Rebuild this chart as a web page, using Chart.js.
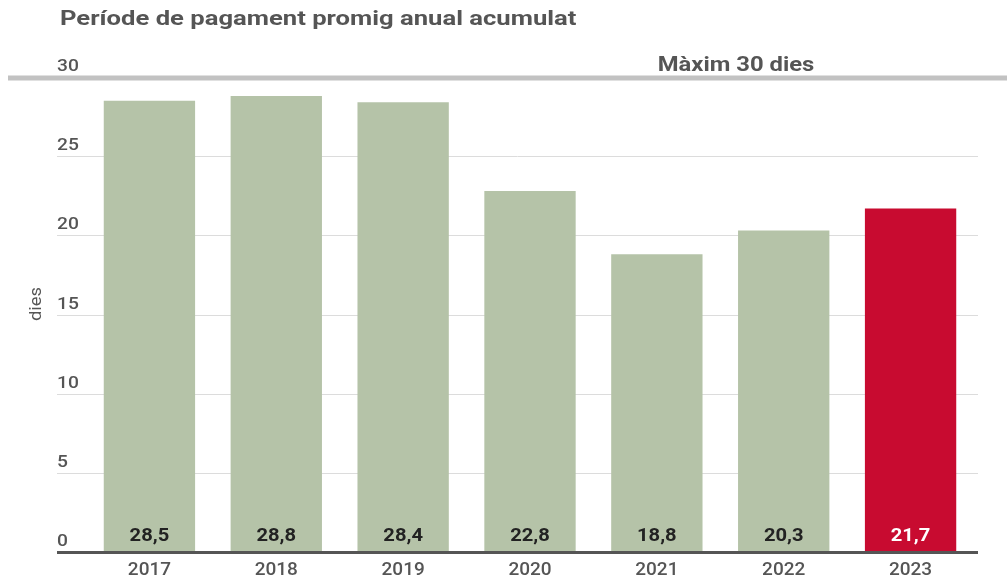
<!DOCTYPE html>
<html>
<head>
<meta charset="utf-8">
<script src="https://cdn.jsdelivr.net/npm/chart.js@4"></script>
<style>
  body { margin: 0; background: #fff; }
  #wrap { width: 1007px; height: 579px; position: relative; }
</style>
</head>
<body>
<div id="wrap"><canvas id="myChart"></canvas></div>
<script>
const titol = 'Període de pagament promig anual acumulat';
const anys = ['2017', '2018', '2019', '2020', '2021', '2022', '2023'];
const dies = [28.5, 28.8, 28.4, 22.8, 18.8, 20.3, 21.7];
const yTicks = [0, 5, 10, 15, 20, 25, 30];
const maxim = 30;
const maximText = 'Màxim 30 dies';
const anyDestacat = '2023';

const verd = '#b5c3a8';
const vermell = '#c80b30';
const gris = '#555555';

// text una mica eixamplat, com a l'original
function text(ctx, s, x, y, align, sx) {
  ctx.save();
  ctx.translate(x, y);
  ctx.scale(sx, 1);
  ctx.textAlign = align;
  ctx.fillText(s, 0, 0);
  ctx.restore();
}

const decor = {
  id: 'decor',
  beforeDatasetsDraw(chart) {
    const ctx = chart.ctx;
    const y = chart.scales.y;
    ctx.save();
    // graella
    ctx.strokeStyle = '#dcdcdc';
    ctx.lineWidth = 1;
    yTicks.forEach(v => {
      if (v === 0 || v === maxim) return;
      const py = Math.round(y.getPixelForValue(v)) + 0.5;
      ctx.beginPath();
      ctx.moveTo(57, py);
      ctx.lineTo(978, py);
      ctx.stroke();
    });
    // línia del màxim
    const pm = y.getPixelForValue(maxim) + 1;
    ctx.strokeStyle = '#c2c2c2';
    ctx.lineWidth = 5;
    ctx.beginPath();
    ctx.moveTo(8, pm);
    ctx.lineTo(1007, pm);
    ctx.stroke();
    // etiquetes de l'eix
    ctx.fillStyle = gris;
    ctx.font = '500 16px Roboto';
    ctx.textBaseline = 'alphabetic';
    yTicks.forEach(v => {
      text(ctx, String(v), 57, y.getPixelForValue(v) - 6, 'left', 1.2);
    });
    ctx.font = 'bold 20px Roboto';
    text(ctx, maximText, 736, pm - 7, 'center', 1.19);
    // títol
    ctx.font = 'bold 21px Roboto';
    text(ctx, titol, 60, 25, 'left', 1.22);
    // títol de l'eix
    ctx.save();
    ctx.translate(41, 304);
    ctx.rotate(-Math.PI / 2);
    ctx.font = '16px Roboto';
    text(ctx, 'dies', 0, 0, 'center', 1.15);
    ctx.restore();
    ctx.restore();
  },
  afterDatasetsDraw(chart) {
    const ctx = chart.ctx;
    const y = chart.scales.y;
    const p0 = y.getPixelForValue(0);
    ctx.save();
    ctx.font = 'bold 18px Roboto';
    ctx.textBaseline = 'alphabetic';
    chart.getDatasetMeta(0).data.forEach((bar, i) => {
      ctx.fillStyle = anys[i] === anyDestacat ? '#ffffff' : '#222222';
      text(ctx, dies[i].toFixed(1).replace('.', ','), bar.x, p0 - 11, 'center', 1.12);
    });
    // línia de base
    ctx.strokeStyle = gris;
    ctx.lineWidth = 3;
    ctx.beginPath();
    ctx.moveTo(57, p0 + 0.5);
    ctx.lineTo(978, p0 + 0.5);
    ctx.stroke();
    ctx.restore();
  }
};

const ctx = document.getElementById('myChart');
new Chart(ctx, {
  type: 'bar',
  data: {
    labels: anys,
    datasets: [{
      label: 'dies',
      data: dies,
      backgroundColor: anys.map(a => a === anyDestacat ? vermell : verd),
      borderWidth: 0,
      barPercentage: 0.72,
      categoryPercentage: 1
    }]
  },
  options: {
    responsive: true,
    maintainAspectRatio: false,
    animation: false,
    layout: { padding: { top: 77, left: 0, right: 33, bottom: 0 } },
    plugins: {
      legend: { display: false },
      tooltip: { enabled: false }
    },
    scales: {
      x: {
        grid: { display: false, drawTicks: false },
        border: { display: false },
        ticks: {
          color: gris,
          padding: 7,
          font: { family: 'Roboto', size: 19, weight: '500' }
        },
        afterFit(scale) { scale.height = 27; }
      },
      y: {
        min: 0,
        max: 30,
        grid: { display: false },
        border: { display: false },
        ticks: { display: false, stepSize: 5 },
        afterFit(scale) { scale.width = 86; }
      }
    }
  },
  plugins: [decor]
});
</script>
</body>
</html>
